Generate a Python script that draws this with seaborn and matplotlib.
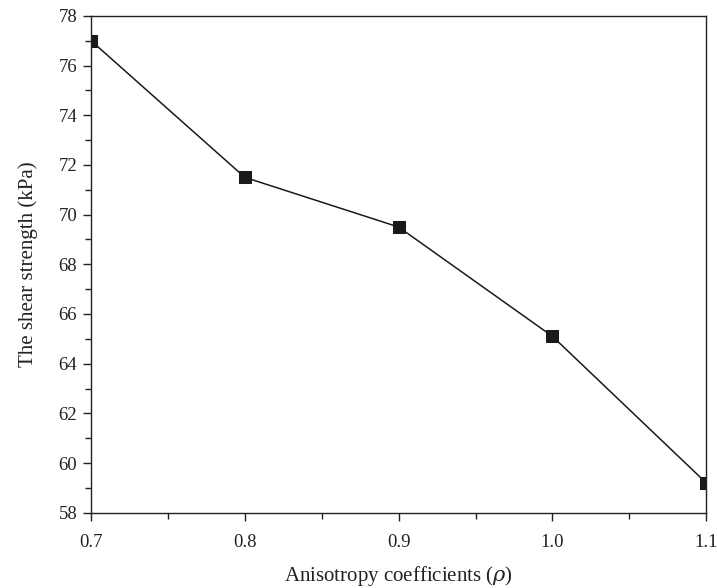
import matplotlib
matplotlib.use("Agg")
import matplotlib.pyplot as plt
from matplotlib.ticker import MultipleLocator
import seaborn as sns
import pandas as pd

# Shear strength versus anisotropy coefficient
rho = [0.7, 0.8, 0.9, 1.0, 1.1]
strength = [77.0, 71.5, 69.5, 65.1, 59.2]

sns.set_theme(style="ticks")
plt.rcParams["font.family"] = ["Liberation Serif", "DejaVu Serif"]
plt.rcParams["mathtext.fontset"] = "dejavuserif"

df = pd.DataFrame({"rho": rho, "strength": strength})

fig = plt.figure(figsize=(7.17, 5.88), dpi=100)
ax = fig.add_axes([0.127, 0.128, 0.858, 0.845])

sns.lineplot(data=df, x="rho", y="strength", ax=ax, color="#1a1a1a",
             linewidth=1.1, marker="s", markersize=8.5,
             markerfacecolor="#1a1a1a", markeredgecolor="#1a1a1a")

ax.set_xlim(0.7, 1.1)
ax.set_ylim(58, 78)
ax.xaxis.set_major_locator(MultipleLocator(0.1))
ax.xaxis.set_minor_locator(MultipleLocator(0.05))
ax.yaxis.set_major_locator(MultipleLocator(2))
ax.yaxis.set_minor_locator(MultipleLocator(1))
ax.set_xticklabels([f"{v:.1f}" for v in ax.get_xticks()])

for side in ["top", "right", "left", "bottom"]:
    ax.spines[side].set_visible(True)
    ax.spines[side].set_color("#222222")
    ax.spines[side].set_linewidth(1.0)

ax.tick_params(which="both", direction="out", top=False, right=False,
               color="#222222", labelcolor="#222222")
ax.tick_params(which="major", length=6, width=1.0, labelsize=13.5, pad=4)
ax.tick_params(which="minor", length=4, width=1.0)
ax.tick_params(axis="x", which="major", pad=9)

ax.set_xlabel(r"Anisotropy coefficients ($\rho$)", fontsize=15,
              color="#222222", labelpad=10)
ax.set_ylabel("The shear strength (kPa)", fontsize=15,
              color="#222222", labelpad=15)

fig.savefig("out.png", dpi=100)
